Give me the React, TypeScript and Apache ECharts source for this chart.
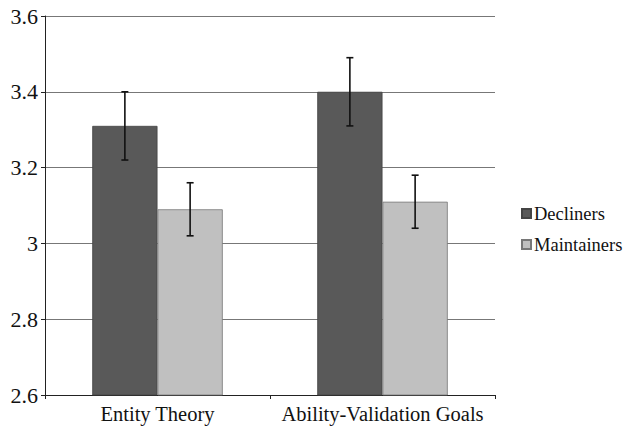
import React, { useEffect, useRef } from "react";
import * as echarts from "echarts";

const categories = ["Entity Theory", "Ability-Validation Goals"];
const seriesNames = ["Decliners", "Maintainers"];
const declinerMeans = [3.31, 3.4];
const maintainerMeans = [3.09, 3.11];
const declinerLow = [3.22, 3.31];
const declinerHigh = [3.4, 3.49];
const maintainerLow = [3.02, 3.04];
const maintainerHigh = [3.16, 3.18];
const yTicks = [2.6, 2.8, 3, 3.2, 3.4, 3.6];

const FONT = "'Liberation Serif', serif";
const CAT_GAP = 0.42;

export default function App() {
  const ref = useRef<HTMLDivElement>(null);
  useEffect(() => {
    const chart = echarts.init(ref.current!, null, { renderer: "svg" });
    const errData = (lows: number[], highs: number[]) =>
      categories.map((_, i) => [i, lows[i], highs[i]]);
    const makeErr = (name: string, lows: number[], highs: number[], side: number) => ({
      type: "custom",
      name: name + "-err",
      data: errData(lows, highs),
      z: 10,
      silent: true,
      renderItem: (params: any, api: any) => {
        const i = api.value(0);
        const lo = api.coord([i, api.value(1)]);
        const hi = api.coord([i, api.value(2)]);
        const bw = (api.size([1, 0])[0] * (1 - CAT_GAP)) / 2;
        const x = lo[0] + side * bw / 2;
        const cap = 3.5;
        const style = { stroke: "#111", lineWidth: 1.6 };
        return {
          type: "group",
          children: [
            { type: "line", shape: { x1: x, y1: lo[1], x2: x, y2: hi[1] }, style },
            { type: "line", shape: { x1: x - cap, y1: lo[1], x2: x + cap, y2: lo[1] }, style },
            { type: "line", shape: { x1: x - cap, y1: hi[1], x2: x + cap, y2: hi[1] }, style },
          ],
        };
      },
    });
    chart.setOption({
      animation: false,
      backgroundColor: "#fff",
      textStyle: { fontFamily: FONT },
      grid: { left: 45, right: 128, top: 16, bottom: 32, containLabel: false },
      legend: {
        data: seriesNames,
        orient: "vertical",
        left: 516,
        top: 199,
        itemWidth: 9,
        itemHeight: 9,
        itemGap: 12,
        icon: "rect",
        textStyle: { fontFamily: FONT, fontSize: 18.5, color: "#111", padding: [0, 0, 0, -2] },
      },
      xAxis: {
        type: "category",
        data: categories,
        axisLine: { lineStyle: { color: "#222", width: 1 } },
        axisTick: { show: true, length: 4, alignWithLabel: false, lineStyle: { color: "#222" } },
        axisLabel: { fontFamily: FONT, fontSize: 20.5, color: "#111", margin: 8, interval: 0 },
      },
      yAxis: {
        type: "value",
        min: yTicks[0],
        max: yTicks[yTicks.length - 1],
        interval: 0.2,
        axisLine: { show: true, lineStyle: { color: "#222", width: 1 } },
        axisTick: { show: true, length: 4, lineStyle: { color: "#222" } },
        splitLine: { lineStyle: { color: "#777", width: 1 } },
        axisLabel: {
          fontFamily: FONT,
          fontSize: 22,
          color: "#111",
          margin: 7,
          formatter: (v: number) => String(Math.round(v * 10) / 10),
        },
      },
      series: [
        {
          type: "bar",
          name: seriesNames[0],
          data: declinerMeans,
          barGap: "0%",
          barCategoryGap: CAT_GAP * 100 + "%",
          itemStyle: { color: "#595959", borderColor: "#444", borderWidth: 0.8 },
        },
        {
          type: "bar",
          name: seriesNames[1],
          data: maintainerMeans,
          barGap: "0%",
          barCategoryGap: CAT_GAP * 100 + "%",
          itemStyle: { color: "#c0c0c0", borderColor: "#777", borderWidth: 0.8 },
        },
        makeErr(seriesNames[0], declinerLow, declinerHigh, -1),
        makeErr(seriesNames[1], maintainerLow, maintainerHigh, 1),
      ],
    });
    return () => chart.dispose();
  }, []);
  return <div ref={ref} style={{ width: 623, height: 427, position: "absolute", left: 0, top: 0 }} />;
}
